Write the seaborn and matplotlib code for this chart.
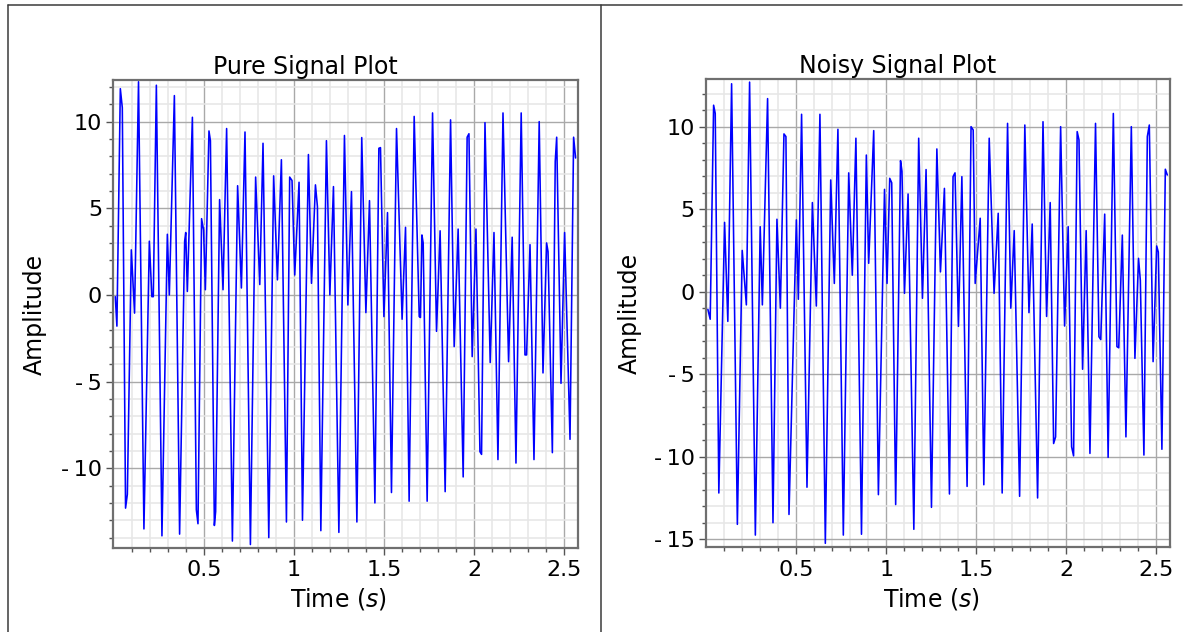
import numpy as np
import pandas as pd
import matplotlib
matplotlib.use("Agg")
import matplotlib.pyplot as plt
from matplotlib.lines import Line2D
from matplotlib.ticker import MultipleLocator, FixedLocator, FuncFormatter
import seaborn as sns

# ---- data (turning points of each signal) ----
pure_t = [0.008, 0.017, 0.036, 0.047, 0.065, 0.075, 0.097, 0.115, 0.137, 0.167,
          0.197, 0.211, 0.219, 0.236, 0.267, 0.297, 0.308, 0.336, 0.365, 0.393,
          0.399, 0.408, 0.436, 0.458, 0.467, 0.487, 0.498, 0.508, 0.528, 0.536,
          0.558, 0.565, 0.587, 0.606, 0.626, 0.658, 0.687, 0.708, 0.728, 0.758,
          0.787, 0.810, 0.828, 0.860, 0.887, 0.908, 0.930, 0.958, 0.976, 0.989,
          1.004, 1.028, 1.047, 1.080, 1.097, 1.119, 1.130, 1.149, 1.180, 1.199,
          1.219, 1.249, 1.280, 1.299, 1.319, 1.349, 1.376, 1.399, 1.419, 1.449,
          1.471, 1.480, 1.499, 1.519, 1.541, 1.569, 1.600, 1.619, 1.639, 1.667,
          1.695, 1.702, 1.710, 1.717, 1.739, 1.769, 1.791, 1.811, 1.839, 1.869,
          1.889, 1.911, 1.939, 1.961, 1.971, 1.989, 2.010, 2.032, 2.041, 2.060,
          2.089, 2.110, 2.132, 2.160, 2.191, 2.211, 2.232, 2.261, 2.282, 2.291,
          2.310, 2.332, 2.361, 2.382, 2.402, 2.410, 2.434, 2.450, 2.458, 2.482,
          2.502, 2.532, 2.552, 2.563]
pure_y = [-0.1, -1.8, 11.9, 10.8, -12.3, -11.5, 2.6, -1.05, 12.3, -13.5,
          3.1, -0.1, -0.1, 12.1, -13.9, 3.5, 0.0, 11.5, -13.8, 3.1,
          3.6, 0.2, 10.25, -12.4, -13.2, 4.4, 3.75, 0.3, 9.46, 8.9,
          -13.3, -12.5, 5.5, 0.3, 9.6, -14.2, 6.3, 0.4, 9.4, -14.4,
          6.8, 0.6, 8.75, -14.0, 6.87, 0.87, 7.8, -13.1, 6.8, 6.6,
          1.15, 6.5, -13.0, 8.1, 0.67, 6.35, 5.1, -13.6, 8.9, 0.0,
          6.25, -13.7, 9.2, -0.58, 5.96, -13.1, 9.08, -1.02, 5.44, -12.0,
          8.46, 8.5, -1.25, 4.75, -11.4, 9.6, -1.4, 3.9, -11.9, 10.3,
          -1.25, -1.3, 3.46, 3.0, -11.9, 10.5, -2.1, 3.7, -11.35, 10.1,
          -2.98, 3.8, -10.5, 9.1, 9.3, -3.56, 3.8, -9.04, -9.2, 9.94,
          -3.9, 3.6, -9.5, 10.5, -3.85, 3.33, -9.7, 10.5, -3.46, -3.46,
          2.9, -9.5, 10.0, -4.5, 3.0, 2.5, -9.1, 7.7, 9.1, -5.1,
          3.6, -8.33, 9.1, 7.9]

noisy_t = [0.009, 0.022, 0.041, 0.050, 0.070, 0.102, 0.120, 0.141, 0.173, 0.200,
           0.223, 0.241, 0.273, 0.300, 0.312, 0.341, 0.371, 0.393, 0.412, 0.432,
           0.443, 0.460, 0.501, 0.512, 0.530, 0.560, 0.590, 0.612, 0.632, 0.662,
           0.692, 0.712, 0.732, 0.762, 0.792, 0.812, 0.832, 0.863, 0.890, 0.903,
           0.931, 0.957, 0.991, 1.005, 1.020, 1.031, 1.053, 1.080, 1.088, 1.102,
           1.122, 1.154, 1.181, 1.202, 1.222, 1.252, 1.282, 1.302, 1.324, 1.352,
           1.372, 1.383, 1.402, 1.421, 1.450, 1.472, 1.484, 1.495, 1.523, 1.543,
           1.573, 1.600, 1.623, 1.645, 1.675, 1.693, 1.712, 1.742, 1.771, 1.794,
           1.812, 1.842, 1.872, 1.892, 1.912, 1.931, 1.942, 1.970, 1.992, 2.012,
           2.031, 2.042, 2.062, 2.072, 2.092, 2.112, 2.133, 2.164, 2.183, 2.193,
           2.215, 2.234, 2.263, 2.283, 2.293, 2.313, 2.333, 2.363, 2.383, 2.403,
           2.413, 2.433, 2.452, 2.463, 2.484, 2.504, 2.513, 2.533, 2.552, 2.563]
noisy_y = [-1.07, -1.67, 11.3, 10.8, -12.2, 4.2, -1.8, 12.6, -14.1, 2.5,
           -0.8, 12.7, -14.75, 3.94, -0.8, 11.7, -14.0, 4.39, -1.0, 9.56,
           9.4, -13.5, 4.35, -0.46, 10.75, -11.85, 5.4, -0.87, 10.75, -15.25,
           6.77, 0.5, 9.84, -14.75, 7.2, 1.0, 9.3, -14.7, 8.28, 1.72,
           9.76, -12.3, 6.2, 0.5, 6.87, 6.6, -12.9, 7.94, 7.3, -0.1,
           5.92, -14.4, 9.3, -0.4, 7.4, -13.07, 8.65, 1.2, 6.26, -12.26,
           6.97, 7.2, -2.1, 6.97, -11.8, 10.0, 9.8, 0.5, 4.45, -11.7,
           9.3, -0.1, 4.75, -12.2, 10.2, -1.0, 3.7, -12.4, 10.1, -1.27,
           4.1, -12.5, 10.3, -1.5, 5.4, -9.2, -8.8, 10.0, -2.08, 3.94,
           -9.4, -9.95, 9.7, 9.2, -4.7, 3.7, -9.8, 10.2, -2.73, -2.9,
           4.7, -10.04, 10.8, -3.33, -3.4, 3.43, -8.8, 10.0, -4.04, 2.02,
           0.7, -9.9, 9.4, 10.1, -4.24, 2.77, 2.4, -9.55, 7.42, 7.07]

titles = ["Pure Signal Plot", "Noisy Signal Plot"]
x_label = r"Time ($s$)"
y_label = "Amplitude"
x_major_ticks = [0.5, 1.0, 1.5, 2.0, 2.5]
x_minor_ticks = [0.1, 0.2, 0.3, 0.4, 0.6, 0.7, 0.8, 0.9, 1.1, 1.2, 1.3, 1.4,
                 1.6, 1.7, 1.8, 1.9, 2.1, 2.2, 2.3, 2.4]

# ---- styling ----
sns.set_theme(style="white")
plt.rcParams['font.family'] = ['DejaVu Sans']
plt.rcParams['mathtext.fontset'] = 'dejavusans'

W, H = 1186, 632
fig = plt.figure(figsize=(W / 100, H / 100), dpi=100)
fig.patch.set_facecolor("white")

def fx(px):
    return px / W

def fy(py):
    return 1 - py / H

# axes boxes in pixel coordinates (left, top, right, bottom)
boxes = [(113.3, 80.0, 578.3, 548.0), (705.7, 79.3, 1170.0, 547.3)]
ylims = [(-14.6, 12.4), (-15.49, 12.87)]
ylabel_x = [-0.1426, -0.137]

def fmt(v, pos):
    if abs(v - round(v)) < 1e-9:
        s = str(int(round(abs(v))))
    else:
        s = ("%g" % abs(v))
    return ("-\u2009" + s) if v < -1e-9 else s

series = [(pure_t, pure_y), (noisy_t, noisy_y)]
frame_col = "#6f6f6f"

for i, ((l, t, r, b), (tt, yy)) in enumerate(zip(boxes, series)):
    ax = fig.add_axes([fx(l), fy(b), fx(r) - fx(l), fy(t) - fy(b)])
    df = pd.DataFrame({"t": tt, "y": yy})
    sns.lineplot(data=df, x="t", y="y", ax=ax, color="#0000ff",
                 linewidth=1.15, estimator=None, sort=False)
    ax.set_xlim(-0.003, 2.578)
    ax.set_ylim(*ylims[i])

    ax.xaxis.set_major_locator(FixedLocator(x_major_ticks))
    ax.xaxis.set_minor_locator(FixedLocator(x_minor_ticks))
    ax.yaxis.set_major_locator(MultipleLocator(5))
    ax.yaxis.set_minor_locator(MultipleLocator(1))
    ax.xaxis.set_major_formatter(FuncFormatter(fmt))
    ax.yaxis.set_major_formatter(FuncFormatter(fmt))

    ax.grid(which="minor", color="#e6e6e6", linewidth=1.1)
    ax.grid(which="major", color="#a9a9a9", linewidth=1.0)
    ax.set_axisbelow(True)

    for sp in ax.spines.values():
        sp.set_visible(True)
        sp.set_color(frame_col)
        sp.set_linewidth(1.6)

    ax.tick_params(which="both", direction="out", color="#555555",
                   bottom=True, left=True, top=False, right=False)
    ax.tick_params(which="major", length=5, width=1.0, labelsize=16,
                   labelcolor="black")
    ax.tick_params(which="minor", length=3, width=1.0)
    ax.tick_params(axis="x", which="major", pad=4)
    ax.tick_params(axis="y", which="major", pad=3)

    ax.set_title(titles[i], fontsize=17, x=0.413, pad=4.5, color="black")
    ax.set_xlabel(x_label, fontsize=17, color="black")
    ax.set_ylabel(y_label, fontsize=17, color="black")
    ax.xaxis.set_label_coords(0.485, -0.082)
    ax.yaxis.set_label_coords(ylabel_x[i], 0.5)

# document frame lines
lc = "#3a3a3a"
fig.add_artist(Line2D([fx(8), fx(1182)], [fy(5), fy(5)], color=lc, lw=1.1,
                      transform=fig.transFigure))
fig.add_artist(Line2D([fx(8), fx(8)], [fy(5), 0], color=lc, lw=1.1,
                      transform=fig.transFigure))
fig.add_artist(Line2D([fx(601), fx(601)], [fy(5), 0], color=lc, lw=1.1,
                      transform=fig.transFigure))

fig.savefig("out.png", dpi=100, facecolor="white")
